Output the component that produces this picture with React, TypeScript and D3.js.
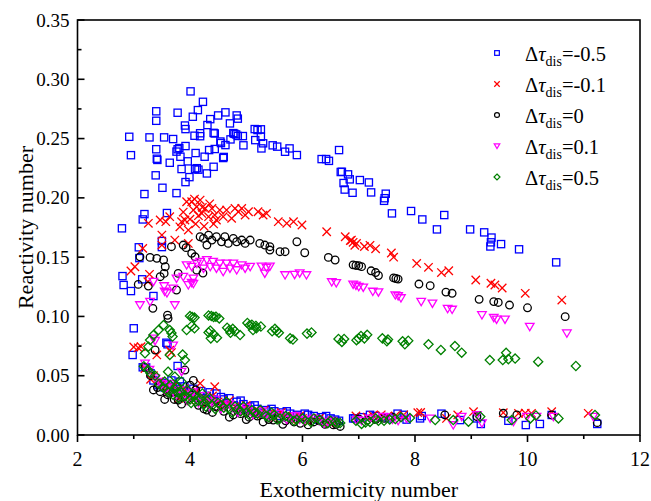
import React from "react";
import * as d3 from "d3";

// Δτdis = -0.5 (blue squares)
const seriesNeg05: [number, number][] = [
  [2.92,0.2515],[2.95,0.236],[3.28,0.251],[3.40,0.273],[3.40,0.265],[3.40,0.241],[3.41,0.233],[3.42,0.232],[3.39,0.219],[3.51,0.2085],
  [3.54,0.251],[3.70,0.2496],[3.64,0.2296],[3.78,0.2718],[3.76,0.204],[3.76,0.239],[3.78,0.241],[3.81,0.242],[3.92,0.2437],[3.83,0.2347],
  [3.85,0.2243],[3.91,0.261],[3.92,0.258],[3.96,0.2308],[3.92,0.2133],[3.99,0.2175],[4.01,0.2898],[4.05,0.2684],[4.08,0.2524],[4.10,0.2378],
  [4.09,0.2243],[4.12,0.225],[4.15,0.2238],[4.14,0.274],[4.18,0.2545],[4.18,0.252],[4.23,0.281],[4.26,0.2347],[4.30,0.2206],[4.31,0.2614],
  [4.34,0.2403],[4.36,0.2664],[4.42,0.2548],[4.44,0.2543],[4.44,0.2412],[4.42,0.2262],[4.50,0.2695],[4.55,0.2462],[4.54,0.2475],[4.59,0.2336],
  [4.60,0.2345],[4.63,0.2721],[4.63,0.2445],[4.71,0.2628],[4.72,0.2493],[4.77,0.2546],[4.79,0.254],[4.83,0.2695],[4.85,0.2668],[4.82,0.2535],
  [4.85,0.2522],[4.94,0.2521],[4.95,0.2443],[5.15,0.258],[5.20,0.2572],[5.26,0.2578],[5.16,0.2487],[5.26,0.2515],[5.27,0.2417],[5.30,0.246],
  [5.47,0.2443],[5.55,0.2432],[5.69,0.2389],[5.77,0.2417],[5.90,0.2361],[6.34,0.2327],[6.42,0.2327],[6.47,0.2312],[6.65,0.2403],[6.68,0.2218],
  [6.81,0.2198],[6.73,0.2125],[6.75,0.207],[6.84,0.2156],[6.89,0.2043],[7.02,0.215],[6.70,0.222],[7.18,0.213],[7.22,0.2046],[7.48,0.2035],
  [7.46,0.1997],[7.45,0.1975],[7.59,0.1869],[7.93,0.1889],[8.13,0.1818],[8.52,0.1855],[8.39,0.1734],[8.98,0.1734],[9.23,0.1709],[9.36,0.1665],
  [9.35,0.1625],[9.34,0.159],[9.53,0.161],[9.85,0.1566],[10.51,0.1456],
  [2.79,0.1743],[3.19,0.2032],[3.19,0.1863],[3.16,0.1818],[3.59,0.1872],[3.50,0.1636],[3.50,0.1585],[3.09,0.1583],[3.10,0.1492],[2.80,0.134],
  [2.82,0.1265],[2.95,0.1214],[3.15,0.1313],[3.35,0.1172],[3.00,0.09],[2.98,0.0675],[3.16,0.0571],[3.58,0.0778],[3.60,0.0765],[3.78,0.0582],
  [3.22,0.057],[3.30,0.052],[3.44,0.042],[3.55,0.040],[3.67,0.046],[3.70,0.037],[3.82,0.045],[3.90,0.041],[4.06,0.039],[4.20,0.037],
  [4.35,0.036],[4.47,0.035],[4.60,0.030],[4.70,0.031],[4.83,0.028],[4.95,0.026],[5.07,0.024],[5.20,0.022],[5.35,0.021],[5.50,0.020],
  [5.65,0.019],[5.78,0.018],[5.90,0.017],[6.04,0.018],[6.20,0.016],[6.35,0.015],[6.50,0.014],[6.65,0.012],
  [3.35,0.046],[3.50,0.044],[3.60,0.043],[3.75,0.041],[3.95,0.036],[4.10,0.034],[4.30,0.033],[4.40,0.030],[4.55,0.032],[4.65,0.027],
  [4.78,0.025],[4.90,0.029],[5.00,0.022],[5.15,0.025],[5.28,0.019],[5.45,0.022],[5.60,0.016],[5.72,0.020],[5.95,0.015],[6.10,0.017],
  [6.28,0.013],[6.42,0.016],[6.58,0.013],
  [6.90,0.014],[6.93,0.014],[7.05,0.015],[7.20,0.017],[7.30,0.016],[7.45,0.015],[7.55,0.014],[7.69,0.018],[7.80,0.017],[7.85,0.013],
  [8.09,0.014],[8.12,0.016],[8.47,0.018],[8.80,0.0126],[9.10,0.014],[9.17,0.0093],[9.66,0.012],[9.97,0.0084],[10.22,0.0093],[10.43,0.0169],
  [11.24,0.0093]
];

// Δτdis = -0.1 (red crosses)
const seriesNeg01: [number, number][] = [
  [2.95,0.1383],[3.02,0.1419],[3.16,0.1574],[3.26,0.1785],[3.28,0.1355],[3.25,0.1293],[3.47,0.1813],[3.50,0.1686],[3.57,0.1799],[3.64,0.1841],
  [3.85,0.1799],[3.91,0.1813],[3.94,0.1967],[4.03,0.1967],[4.06,0.1897],[4.12,0.1925],[4.18,0.1981],[4.21,0.1869],[4.27,0.1911],[4.33,0.1841],
  [4.39,0.1911],[4.44,0.1855],[4.47,0.1813],[4.53,0.1897],[4.59,0.1841],[4.65,0.1897],[4.74,0.1827],[4.80,0.1911],[4.86,0.1883],[4.92,0.1911],
  [4.98,0.1855],[5.04,0.1883],[5.21,0.1883],[5.30,0.1855],[5.36,0.1869],[5.57,0.1799],[5.72,0.1785],[5.84,0.1799],[5.99,0.1771],[6.43,0.1714],
  [6.76,0.1672],[6.87,0.1644],[6.96,0.1616],[3.97,0.1728],[3.82,0.1756],[3.73,0.1644],[3.97,0.1616],[3.50,0.1602],
  [4.00,0.182],[4.10,0.178],[4.15,0.185],[4.25,0.176],[4.35,0.195],[4.42,0.178],[3.88,0.188],[4.08,0.199],[4.22,0.192],
  [6.85,0.164],[6.90,0.1625],[6.93,0.160],[7.10,0.159],[7.20,0.160],[7.30,0.157],[7.58,0.1535],[7.62,0.150],[8.03,0.1447],[8.24,0.1414],
  [8.47,0.137],[8.60,0.1385],[9.08,0.1307],[9.35,0.128],[9.42,0.1265],[9.55,0.124],[9.96,0.1195],[10.61,0.1138],
  [3.00,0.0742],[3.08,0.0735],[3.13,0.0745],[3.41,0.0675],[3.64,0.0715],[3.67,0.0695],
  [3.20,0.056],[3.35,0.050],[3.45,0.045],[3.55,0.041],[3.65,0.039],[3.75,0.037],[3.85,0.035],[3.95,0.036],[4.05,0.034],[4.18,0.0436],
  [4.25,0.032],[4.35,0.030],[4.44,0.0407],[4.50,0.028],[4.65,0.026],[4.80,0.024],[4.95,0.022],[5.10,0.020],[5.25,0.019],[5.40,0.018],
  [5.55,0.017],[5.70,0.016],[5.85,0.015],[6.00,0.014],[6.20,0.013],[6.40,0.012],[6.55,0.011],
  [3.30,0.047],[3.50,0.043],[3.60,0.036],[3.70,0.041],[3.80,0.031],[3.90,0.039],[4.00,0.029],[4.12,0.037],[4.30,0.027],[4.40,0.033],
  [4.55,0.024],[4.70,0.029],[4.85,0.020],[5.00,0.025],[5.18,0.017],[5.32,0.021],[5.50,0.014],[5.62,0.019],[5.80,0.013],[5.95,0.016],
  [6.10,0.011],[6.30,0.014],[6.48,0.010],
  [6.95,0.016],[7.15,0.015],[7.25,0.0165],[7.40,0.017],[7.50,0.0155],[7.65,0.016],[7.80,0.017],[8.05,0.0188],[8.10,0.019],[8.56,0.014],
  [8.76,0.0169],[9.04,0.0197],[9.57,0.0188],[9.84,0.0182],[9.96,0.0185],[10.07,0.0183],[10.43,0.0197],[11.08,0.0183]
];

// Δτdis = 0 (black circles)
const seriesZero: [number, number][] = [
  [3.11,0.1503],[3.29,0.1498],[3.41,0.149],[3.53,0.1476],[3.56,0.1419],[3.54,0.1363],[3.08,0.127],[3.26,0.1256],[3.34,0.1068],[3.76,0.1223],
  [3.67,0.1588],[3.88,0.1602],[3.93,0.158],[4.03,0.1532],[4.09,0.1503],[4.18,0.1672],[4.24,0.1658],[4.33,0.1686],[4.30,0.1602],[4.39,0.1644],
  [4.47,0.1672],[4.56,0.163],[4.62,0.1672],[4.68,0.1616],[4.77,0.1658],[4.83,0.163],[4.92,0.1644],[4.98,0.1616],[5.07,0.1644],[5.24,0.1616],
  [5.33,0.1602],[5.42,0.1588],[5.42,0.156],[5.60,0.1546],[5.69,0.1546],[5.90,0.163],[6.04,0.1537],[6.46,0.1498],[6.58,0.1476],[6.90,0.1435],
  [6.95,0.143],[7.00,0.1428],[4.12,0.139],[4.23,0.1366],[3.79,0.1363],[3.47,0.1335],
  [7.05,0.142],[7.22,0.1385],[7.30,0.137],[7.35,0.1345],[7.62,0.1325],[7.66,0.132],[7.70,0.1315],[8.07,0.1273],[8.27,0.1259],[8.55,0.1205],
  [8.66,0.1195],[9.14,0.1144],[9.40,0.1125],[9.48,0.1118],[9.68,0.1096],[10.00,0.1073],[10.67,0.0998],
  [3.60,0.101],[3.61,0.0984],[3.38,0.0717],[3.91,0.0548],[4.06,0.046],
  [3.20,0.057],[3.30,0.050],[3.42,0.040],[3.47,0.0365],[3.60,0.034],[3.72,0.030],[3.79,0.0295],[3.95,0.030],[4.00,0.042],[4.10,0.038],
  [4.15,0.025],[4.30,0.021],[4.45,0.024],[4.60,0.020],[4.77,0.0169],[4.90,0.018],[5.05,0.015],[5.20,0.016],[5.40,0.013],[5.48,0.0126],
  [5.55,0.014],[5.70,0.012],[5.85,0.011],[5.96,0.0099],[6.20,0.011],[6.40,0.009],[6.55,0.0085],[6.67,0.0072],
  [3.35,0.038],[3.55,0.030],[3.65,0.037],[3.85,0.026],[4.02,0.034],[4.20,0.030],[4.25,0.022],[4.40,0.019],[4.55,0.025],[4.70,0.015],
  [4.85,0.020],[5.00,0.013],[5.15,0.018],[5.30,0.011],[5.65,0.009],[5.80,0.014],[6.10,0.0085],[6.30,0.012],[6.60,0.009],
  [7.00,0.0135],[7.15,0.0125],[7.30,0.013],[7.45,0.014],[7.60,0.015],[8.53,0.0169],[9.10,0.0155],[9.57,0.0183],[9.81,0.0169],[10.43,0.0169],
  [11.24,0.0104]
];

// Δτdis = 0.1 (magenta down-triangles)
const seriesPos01: [number, number][] = [
  [3.11,0.1096],[3.29,0.1124],[3.73,0.1096],[3.35,0.1293],[3.54,0.1256],[3.55,0.121],[3.59,0.1197],[3.70,0.1237],[3.97,0.1265],[4.03,0.1285],
  [4.06,0.1275],[3.94,0.1433],[4.03,0.1419],[4.12,0.1447],[4.18,0.1461],[4.24,0.1405],[4.30,0.1476],[4.36,0.1419],[4.41,0.1461],[4.47,0.1405],
  [4.53,0.1447],[4.59,0.1377],[4.65,0.1447],[4.71,0.1405],[4.77,0.1447],[4.83,0.1391],[4.92,0.1433],[4.98,0.1405],[5.07,0.1419],[5.27,0.1422],
  [5.36,0.1412],[5.42,0.1422],[5.33,0.1363],[5.69,0.1349],[5.86,0.1352],[5.95,0.1365],[6.07,0.1349],[6.52,0.129],[6.60,0.1282],[6.90,0.127],
  [6.95,0.1262],[7.00,0.125],[3.88,0.1335],[4.06,0.1321],[3.76,0.1321],
  [7.08,0.1245],[7.25,0.121],[7.35,0.1205],[7.65,0.118],[7.70,0.1172],[7.75,0.1155],[8.11,0.1124],[8.31,0.111],[8.58,0.1065],[8.66,0.1058],
  [9.19,0.1012],[9.40,0.099],[9.45,0.0975],[9.60,0.0975],[10.04,0.0913],[10.70,0.0858],
  [3.35,0.0815],[3.38,0.0795],[3.70,0.0755],[3.20,0.0604],[3.85,0.0534],
  [3.28,0.055],[3.38,0.048],[3.50,0.043],[3.60,0.040],[3.70,0.038],[3.80,0.036],[3.90,0.034],[4.00,0.033],[4.10,0.031],[4.20,0.030],
  [4.30,0.028],[4.40,0.027],[4.50,0.026],[4.62,0.024],[4.75,0.023],[4.90,0.021],[5.05,0.020],[5.20,0.018],[5.35,0.017],[5.50,0.016],
  [5.65,0.015],[5.80,0.014],[5.95,0.013],[6.10,0.013],[6.30,0.012],[6.45,0.011],[6.60,0.010],
  [3.45,0.045],[3.55,0.038],[3.65,0.043],[3.75,0.033],[3.85,0.038],[3.95,0.029],[4.05,0.036],[4.15,0.027],[4.25,0.033],[4.35,0.024],
  [4.45,0.030],[4.55,0.022],[4.70,0.026],[4.85,0.019],[5.00,0.023],[5.12,0.017],[5.28,0.020],[5.42,0.015],[5.58,0.018],[5.72,0.013],
  [5.88,0.016],[6.02,0.012],[6.20,0.014],[6.38,0.010],[6.52,0.012],
  [6.96,0.0126],[7.05,0.012],[7.20,0.014],[7.30,0.0135],[7.43,0.0155],[7.50,0.015],[7.60,0.013],[7.70,0.012],[7.85,0.014],[8.27,0.014],
  [8.68,0.0084],[8.83,0.0155],[9.10,0.0169],[9.19,0.0099],[9.75,0.0112],[9.99,0.0155],[10.16,0.0155],[10.46,0.0155],[11.17,0.0155]
];

// Δτdis = 0.5 (green diamonds)
const seriesPos05: [number, number][] = [
  [4.00,0.1003],[4.04,0.0995],[4.08,0.099],[4.33,0.1008],[4.38,0.1003],[4.42,0.0995],[4.46,0.0998],[4.52,0.0983],[4.03,0.092],[4.08,0.090],
  [3.64,0.0885],[3.67,0.086],[3.69,0.083],[3.53,0.0927],[3.44,0.0885],[3.35,0.0843],[3.29,0.0801],[3.20,0.0689],[3.26,0.0745],[3.64,0.0675],
  [3.87,0.0678],[3.91,0.0632],[3.61,0.0534],[3.73,0.0492],[3.94,0.0885],[4.33,0.0865],[4.36,0.088],[4.42,0.085],[4.37,0.0815],[4.48,0.082],
  [4.66,0.0905],[4.70,0.0885],[4.76,0.0895],[4.72,0.0862],[4.80,0.0875],[5.02,0.0945],[5.06,0.0925],[5.10,0.093],[5.17,0.092],[5.12,0.0885],
  [5.18,0.090],[5.26,0.0915],[4.89,0.0843],[5.46,0.0875],[5.51,0.0895],[5.54,0.0878],[5.58,0.0862],[5.78,0.0815],[5.83,0.0805],[6.08,0.0855],
  [6.16,0.0865],[6.64,0.081],[6.70,0.0785],[6.96,0.080],
  [6.74,0.081],[7.00,0.0815],[7.04,0.0835],[7.10,0.0815],[7.15,0.0845],[7.42,0.0815],[7.50,0.079],[7.52,0.0805],[7.78,0.079],[7.82,0.0765],
  [7.88,0.0795],[8.24,0.0765],[8.46,0.0717],[8.71,0.075],[8.83,0.0694],[9.33,0.0632],[9.56,0.0632],[9.62,0.0693],[9.66,0.064],[9.78,0.0645],
  [10.19,0.0618],[10.86,0.0582],
  [3.18,0.058],[3.25,0.055],[3.30,0.052],[3.38,0.050],[3.45,0.043],[3.52,0.040],[3.58,0.038],[3.62,0.036],[3.70,0.034],[3.75,0.041],
  [3.80,0.031],[3.85,0.036],[3.92,0.033],[4.00,0.030],[4.05,0.035],[4.10,0.028],[4.18,0.031],[4.25,0.026],[4.30,0.029],[4.40,0.025],
  [4.50,0.027],[4.60,0.023],[4.70,0.022],[4.80,0.024],[4.90,0.020],[5.00,0.019],[5.10,0.021],[5.20,0.018],[5.35,0.016],[5.50,0.017],
  [5.60,0.014],[5.75,0.015],[5.90,0.013],[6.05,0.012],[6.20,0.014],[6.35,0.011],[6.50,0.012],[6.62,0.010],[3.85,0.045],
  [3.55,0.045],[3.65,0.042],[3.72,0.039],[3.78,0.036],[3.88,0.032],[3.95,0.038],[4.02,0.027],[4.08,0.033],[4.15,0.029],[4.22,0.035],
  [4.28,0.024],[4.35,0.031],[4.45,0.022],[4.55,0.025],[4.65,0.028],[4.75,0.019],[4.85,0.022],[4.95,0.024],[5.05,0.017],[5.15,0.019],
  [5.25,0.021],[5.40,0.015],[5.45,0.019],[5.55,0.013],[5.70,0.016],[5.85,0.012],[6.00,0.014],[6.15,0.011],[6.30,0.013],[6.45,0.010],
  [6.58,0.011],
  [6.67,0.0101],[6.95,0.012],[7.05,0.0093],[7.12,0.0105],[7.20,0.011],[7.30,0.014],[7.35,0.012],[7.45,0.012],[7.55,0.013],[7.65,0.0135],
  [7.75,0.015],[7.91,0.0143],[8.36,0.0126],[8.68,0.0126],[8.95,0.0112],[9.16,0.0155],[9.72,0.0126],[10.05,0.014],[10.15,0.0165],[10.55,0.014],
  [11.20,0.0169]
];

const xTicks = [2, 4, 6, 8, 10, 12];
const xMinorTicks = [3, 5, 7, 9, 11];
const yTicks = [0, 0.05, 0.1, 0.15, 0.2, 0.25, 0.3, 0.35];
const yMinorTicks = [0.025, 0.075, 0.125, 0.175, 0.225, 0.275, 0.325];
const legendValues = ["-0.5", "-0.1", "0", "0.1", "0.5"];

type Kind = "square" | "times" | "circle" | "triDown" | "diamond";

const seriesDefs: { data: [number, number][]; kind: Kind; color: string }[] = [
  { data: seriesNeg05, kind: "square", color: "#0000ff" },
  { data: seriesNeg01, kind: "times", color: "#ff0000" },
  { data: seriesZero, kind: "circle", color: "#000000" },
  { data: seriesPos01, kind: "triDown", color: "#ff00ff" },
  { data: seriesPos05, kind: "diamond", color: "#008000" },
];

function Marker({ kind, x, y, color, s = 1, sw = 1.3 }: { kind: Kind; x: number; y: number; color: string; s?: number; sw?: number }) {
  const common = { fill: "none", stroke: color, strokeWidth: sw };
  if (kind === "square") {
    const h = 3.6 * s;
    return <rect x={x - h} y={y - h} width={2 * h} height={2 * h} {...common} />;
  }
  if (kind === "times") {
    const h = 4.2 * s;
    return <path d={`M${x - h},${y - h}L${x + h},${y + h}M${x - h},${y + h}L${x + h},${y - h}`} {...common} />;
  }
  if (kind === "circle") {
    return <circle cx={x} cy={y} r={3.8 * s} {...common} />;
  }
  if (kind === "triDown") {
    const w = 4.3 * s;
    return <path d={`M${x - w},${y - 3.3 * s}L${x + w},${y - 3.3 * s}L${x},${y + 4 * s}Z`} {...common} />;
  }
  const h = 4.6 * s;
  return <path d={`M${x},${y - h}L${x + h},${y}L${x},${y + h}L${x - h},${y}Z`} {...common} />;
}

const SERIF = "'Liberation Serif', 'DejaVu Serif', 'Times New Roman', serif";

export default function App() {
  const W = 651, H = 501;
  const xs = d3.scaleLinear().domain([2, 12]).range([77.5, 640]);
  const ys = d3.scaleLinear().domain([0, 0.35]).range([435, 20]);
  const x0 = xs(2), x1 = xs(12), y0 = ys(0), y1 = ys(0.35);
  const ts = { fontFamily: SERIF };

  return (
    <svg width={W} height={H} style={{ position: "absolute", left: 0, top: 0, background: "#fff" }}>
      <rect x={0} y={0} width={W} height={H} fill="#fff" />
      {seriesDefs.map((sd, i) => (
        <g key={i}>
          {sd.data.map((d, j) => (
            <Marker key={j} kind={sd.kind} x={xs(d[0])} y={ys(d[1])} color={sd.color} />
          ))}
        </g>
      ))}
      <rect x={x0} y={y1} width={x1 - x0} height={y0 - y1} fill="none" stroke="#000" strokeWidth={1.6} />
      {xTicks.map((t) => (
        <g key={"xt" + t}>
          <line x1={xs(t)} x2={xs(t)} y1={y0} y2={y0 + 7} stroke="#000" strokeWidth={1.6} />
          <text x={xs(t)} y={y0 + 31} fontSize={20} textAnchor="middle" style={ts}>{t}</text>
        </g>
      ))}
      {xMinorTicks.map((t) => (
        <line key={"xm" + t} x1={xs(t)} x2={xs(t)} y1={y0} y2={y0 + 4} stroke="#000" strokeWidth={1.6} />
      ))}
      {yTicks.map((t) => (
        <g key={"yt" + t}>
          <line x1={x0} x2={x0 + 7} y1={ys(t)} y2={ys(t)} stroke="#000" strokeWidth={1.6} />
          <text x={x0 - 8} y={ys(t) + 6.5} fontSize={19} textAnchor="end" style={ts}>{t.toFixed(2)}</text>
        </g>
      ))}
      {yMinorTicks.map((t) => (
        <line key={"ym" + t} x1={x0} x2={x0 + 4} y1={ys(t)} y2={ys(t)} stroke="#000" strokeWidth={1.6} />
      ))}
      <text x={(x0 + x1) / 2} y={497} fontSize={22} textAnchor="middle" style={ts}>Exothermicity number</text>
      <text transform={`translate(33,${(y0 + y1) / 2}) rotate(-90)`} fontSize={22} textAnchor="middle" style={ts}>Reactivity number</text>
      {seriesDefs.map((sd, i) => {
        const cy = 53 + i * 31;
        return (
          <g key={"lg" + i}>
            <Marker kind={sd.kind} x={497} y={cy} color={sd.color} s={0.65} sw={1.2} />
            <text x={525} y={cy + 8} fontSize={20.5} style={ts}>
              <tspan>Δ</tspan>
              <tspan fontStyle="italic">τ</tspan>
              <tspan fontSize={14} dy={5}>dis</tspan>
              <tspan dy={-5}>={legendValues[i]}</tspan>
            </text>
          </g>
        );
      })}
    </svg>
  );
}
